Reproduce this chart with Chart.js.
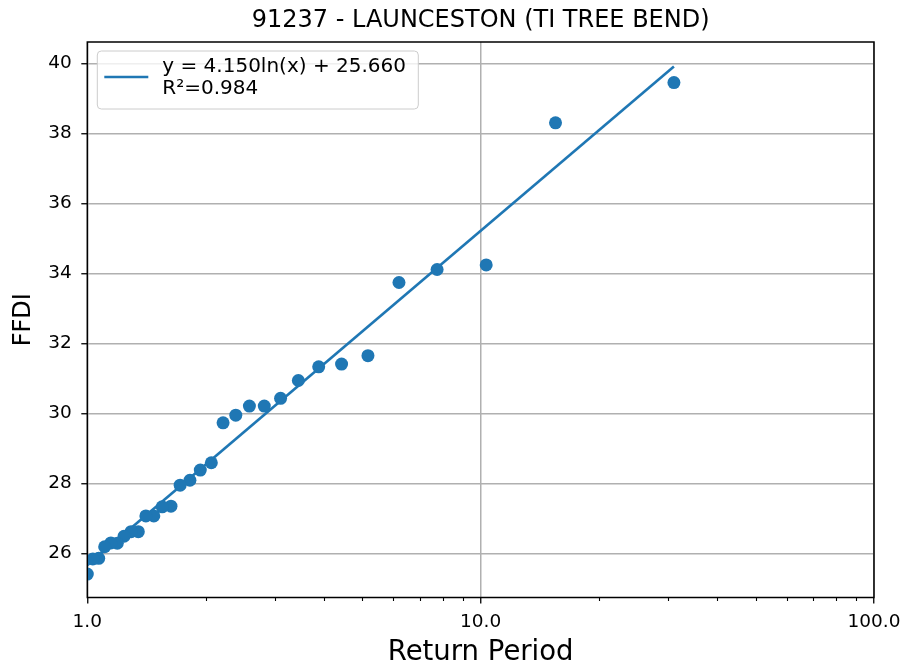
<!DOCTYPE html>
<html>
<head>
<meta charset="utf-8">
<script src="https://cdn.jsdelivr.net/npm/chart.js@4.4.1/dist/chart.umd.min.js"></script>
<style>
  html, body { margin: 0; padding: 0; background: #fff; }
  #wrap { width: 905px; height: 669px; position: relative; }
</style>
</head>
<body>
<div id="wrap"><canvas id="chart"></canvas></div>
<script>
// Return period (years) vs FFDI, largest event first
const returnPeriods = [31.0, 15.5, 10.33, 7.75, 6.2, 5.17, 4.43, 3.875, 3.44, 3.1, 2.818, 2.583, 2.385, 2.214, 2.067,
  1.9375, 1.8235, 1.722, 1.632, 1.55, 1.476, 1.409, 1.348, 1.292, 1.24, 1.192, 1.148, 1.107, 1.069, 1.033, 1.0];
const ffdiValues = [39.45, 38.30, 34.24, 34.11, 33.74, 31.65, 31.41, 31.33, 30.94, 30.43, 30.21, 30.21, 29.95, 29.73, 28.59,
  28.38, 28.09, 27.95, 27.35, 27.33, 27.07, 27.07, 26.62, 26.62, 26.49, 26.29, 26.30, 26.19, 25.86, 25.84, 25.41];

// fitted trend line end points
const trendX = [1.0, 31.0];
const trendY = [25.66, 39.91];

// axis ticks
const xMajorTicks = [1, 10, 100];
const xMinorTicks = [2, 3, 4, 5, 6, 7, 8, 9, 20, 30, 40, 50, 60, 70, 80, 90];
const yTicks = [26, 28, 30, 32, 34, 36, 38, 40];

const titleText = '91237 - LAUNCESTON (TI TREE BEND)';
const legendLines = ['y = 4.150ln(x) + 25.660', 'R\u00B2=0.984'];

const BLUE = '#1f77b4';
const GRID = '#b0b0b0';
const FONT = "'DejaVu Sans', sans-serif";

Chart.defaults.font.family = FONT;
Chart.defaults.color = '#000';

const isMajor = v => xMajorTicks.includes(v);

// --- title, spines, minor ticks and legend box (matplotlib look) ---
const decorPlugin = {
  id: 'decor',
  afterDraw(chart) {
    const { ctx, chartArea: a, scales } = chart;
    const cx = (a.left + a.right) / 2;
    ctx.save();

    ctx.fillStyle = '#000';
    ctx.font = `24px ${FONT}`;
    ctx.textAlign = 'center';
    ctx.textBaseline = 'middle';
    ctx.fillText(titleText, cx, 21);

    // minor ticks on log axis
    ctx.strokeStyle = '#000';
    ctx.lineWidth = 1.1;
    xMinorTicks.forEach(v => {
      const px = Math.round(scales.x.getPixelForValue(v)) + 0.5;
      ctx.beginPath();
      ctx.moveTo(px, a.bottom);
      ctx.lineTo(px, a.bottom + 3.5);
      ctx.stroke();
    });

    // spines
    ctx.lineWidth = 1.5;
    ctx.strokeRect(a.left, a.top, a.right - a.left, a.bottom - a.top);

    // legend
    const lx = a.left + 10, ly = a.top + 9, lw = 321, lh = 58;
    ctx.beginPath();
    ctx.roundRect(lx, ly, lw, lh, 4);
    ctx.fillStyle = 'rgba(255,255,255,0.8)';
    ctx.fill();
    ctx.strokeStyle = '#cccccc';
    ctx.lineWidth = 1;
    ctx.stroke();

    ctx.strokeStyle = BLUE;
    ctx.lineWidth = 2.6;
    ctx.beginPath();
    ctx.moveTo(lx + 7, ly + 26);
    ctx.lineTo(lx + 51, ly + 26);
    ctx.stroke();

    ctx.fillStyle = '#000';
    ctx.font = `20px ${FONT}`;
    ctx.textAlign = 'left';
    legendLines.forEach((t, i) => ctx.fillText(t, lx + 65, ly + 16 + i * 22));

    ctx.restore();
  }
};

const points = returnPeriods.map((x, i) => ({ x, y: ffdiValues[i] }));
const trend = trendX.map((x, i) => ({ x, y: trendY[i] }));

new Chart(document.getElementById('chart'), {
  type: 'scatter',
  data: {
    datasets: [
      {
        label: 'FFDI',
        data: points,
        backgroundColor: BLUE,
        borderColor: BLUE,
        borderWidth: 0,
        pointRadius: 6.5
      },
      {
        label: legendLines.join(' '),
        data: trend,
        showLine: true,
        borderColor: BLUE,
        borderWidth: 2.6,
        pointRadius: 0
      }
    ]
  },
  options: {
    responsive: true,
    maintainAspectRatio: false,
    animation: false,
    events: [],
    layout: { padding: { left: 0, right: 31, top: 42, bottom: 0 } },
    plugins: {
      legend: { display: false },
      tooltip: { enabled: false },
      title: { display: false }
    },
    scales: {
      x: {
        type: 'logarithmic',
        min: 1,
        max: 100,
        afterBuildTicks: s => {
          s.ticks = [...xMajorTicks, ...xMinorTicks].sort((p, q) => p - q).map(v => ({ value: v }));
        },
        afterFit: s => {
          s.height = 71.5;
          s.paddingLeft = 0;
          s.paddingRight = 0;
        },
        ticks: {
          autoSkip: false,
          maxRotation: 0,
          padding: 8,
          font: { size: 18.5 },
          callback: v => isMajor(v) ? v.toFixed(1) : ''
        },
        grid: {
          color: c => isMajor(c.tick && c.tick.value) ? GRID : 'rgba(0,0,0,0)',
          tickColor: c => isMajor(c.tick && c.tick.value) ? '#000' : 'rgba(0,0,0,0)',
          lineWidth: 1.5,
          tickWidth: 1.3,
          tickLength: 6
        },
        border: { display: false },
        title: {
          display: true,
          text: 'Return Period',
          font: { size: 27.5 },
          padding: { top: 0, bottom: 0 }
        }
      },
      y: {
        min: 24.74,
        max: 40.61,
        afterBuildTicks: s => { s.ticks = yTicks.map(v => ({ value: v })); },
        afterFit: s => {
          s.width = 87.3;
          s.paddingTop = 0;
          s.paddingBottom = 0;
        },
        ticks: {
          padding: 9.6,
          font: { size: 18.5 },
          callback: v => String(v)
        },
        grid: {
          color: GRID,
          tickColor: '#000',
          lineWidth: 1.5,
          tickWidth: 1.3,
          tickLength: 6
        },
        border: { display: false },
        title: {
          display: true,
          text: 'FFDI',
          font: { size: 24 },
          padding: { top: 9.6, bottom: 0 }
        }
      }
    }
  },
  plugins: [decorPlugin]
});
</script>
</body>
</html>
